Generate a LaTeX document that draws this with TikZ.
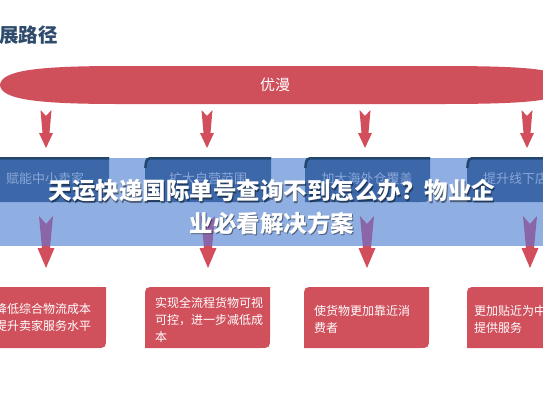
\documentclass[tikz,border=0pt]{standalone}
\usepackage{fontspec}
\setmainfont{Noto Sans CJK SC}
\usetikzlibrary{calc}
\definecolor{bannerred}{HTML}{CF4F5B}
\definecolor{arrowred}{HTML}{D24E5C}
\definecolor{arrowpurple}{HTML}{8A66A9}
\definecolor{bandblue}{HTML}{8FAFE2}
\definecolor{boxblue}{HTML}{3C68A9}
\definecolor{boxdark}{HTML}{22476F}
\definecolor{boxtext}{HTML}{8AA6D8}
\definecolor{titledark}{HTML}{2F4B6C}
\definecolor{redbox}{HTML}{D0505C}
\newcommand\rbox[3]{%
  \fill[#2] let \p1=(#1.north west), \p2=(#1.south east) in
    (\x1,\y2) -- (\x1,\y1-#3) .. controls (\x1,\y1) .. (\x1+#3,\y1) -- (\x2,\y1)
    -- (\x2,\y2+#3) .. controls (\x2,\y2) .. (\x2-#3,\y2) -- cycle;}
\newcommand\topborder[2]{%
  \draw[boxdark, line width=2.5pt] let \p1=(#1.north west), \p2=(#1.south east) in
    (\x1+0.4pt,\y1-#2) .. controls (\x1+1.2pt,\y1-1.2pt) .. (\x1+#2,\y1-1.25pt) -- (\x2,\y1-1.25pt);}
\newcommand\fatarrow[8]{%
  \fill[#1] let \p1=(#2), \p2=(#3) in
    (\x1-#4,\y1) -- (\x1,\y1-#5) -- (\x1+#4,\y1) -- (\x1+#6,\y2+#8) -- (\x1+#7,\y2+#8)
    -- (\x2,\y2) -- (\x1-#7,\y2+#8) -- (\x1-#6,\y2+#8) -- cycle;}
\tikzset{
  boxn/.style={inner sep=0pt, outer sep=0pt},
  bluetxt/.style={inner sep=0pt, text=boxtext, font=\fontsize{13}{15}\selectfont},
  redtxt/.style={inner sep=0pt, anchor=west, text=white, font=\fontsize{12}{14}\selectfont},
  bigtitle/.style={inner sep=0pt, text=white, font=\fontsize{23.5}{26}\selectfont\bfseries},
  bigshadow/.style={inner sep=0pt, text=black, opacity=0.45, font=\fontsize{23.5}{26}\selectfont\bfseries},
}
\begin{document}
\begin{tikzpicture}[x=1pt,y=-1pt]
\useasboundingbox (0,0) rectangle (543,408);
\clip (0,0) rectangle (543,408);
\fill[white] (0,0) rectangle (543,408);

% heading
\node[inner sep=0pt, anchor=west, text=titledark, font=\fontsize{19.5}{22}\selectfont\bfseries] (head) at (-1,35) {展路径};

% banner
\fill[bannerred] (0,85) .. controls (1,70) and (40,66) .. (120,66) -- (440,66)
  .. controls (540,66) and (565,70) .. (566,85)
  .. controls (565,100) and (540,104) .. (440,104) -- (120,104)
  .. controls (40,104) and (1,100) .. (0,85) -- cycle;
\node[inner sep=0pt, text=white, font=\fontsize{15}{17}\selectfont] (banner) at (275,85) {优漫};

% upper arrows
\foreach \i/\x in {1/46,2/207,3/365,4/527}{
  \coordinate (u\i s) at (\x,110);
  \coordinate (u\i e) at (\x,148);
  \fatarrow{arrowred}{u\i s}{u\i e}{5.5pt}{6pt}{3.5pt}{7pt}{15pt}
}

% band
\node[boxn, fill=bandblue, minimum width=543pt, minimum height=88pt] (band) at (271.5,202) {};

% lower arrows
\foreach \i/\x in {1/46,2/208,3/367,4/530}{
  \coordinate (l\i s) at (\x,216);
  \coordinate (l\i e) at (\x,268);
  \begin{scope}
    \clip (band.north west) rectangle (band.south east);
    \fatarrow{arrowpurple}{l\i s}{l\i e}{7pt}{8pt}{4pt}{8.5pt}{20pt}
  \end{scope}
  \begin{scope}
    \clip (0,246) rectangle (543,408);
    \fatarrow{arrowred}{l\i s}{l\i e}{7pt}{8pt}{4pt}{8.5pt}{20pt}
  \end{scope}
}

% blue boxes
\node[boxn, minimum width=129pt, minimum height=45pt] (b1) at (44.5,179.5) {};
\node[boxn, minimum width=126pt, minimum height=45pt] (b2) at (208,179.5) {};
\node[boxn, minimum width=125pt, minimum height=45pt] (b3) at (367.5,179.5) {};
\node[boxn, minimum width=133pt, minimum height=45pt] (b4) at (533.5,179.5) {};
\foreach \b in {b1,b2,b3,b4}{
  \rbox{\b}{boxblue}{11pt}
  \topborder{\b}{11pt}
}
\node[bluetxt] (bt1) at (45,179) {赋能中小卖家};
\node[bluetxt] (bt2) at (208,179) {扩大自营范围};
\node[bluetxt] (bt3) at (367,179) {加大海外仓覆盖};
\node[bluetxt, anchor=west] (bt4) at (483,179) {提升线下店};

% red boxes
\node[boxn, minimum width=126pt, minimum height=61pt] (r1) at (43,317.5) {};
\node[boxn, minimum width=125pt, minimum height=61pt] (r2) at (207.5,317.5) {};
\node[boxn, minimum width=125pt, minimum height=61pt] (r3) at (366.5,317.5) {};
\node[boxn, minimum width=133pt, minimum height=61pt] (r4) at (533.5,317.5) {};
\foreach \b in {r1,r2,r3,r4}{
  \rbox{\b}{redbox}{11pt}
}
\node[redtxt] (rt1a) at (-5,309) {降低综合物流成本};
\node[redtxt] (rt1b) at (-5,325.5) {提升卖家服务水平};
\node[redtxt] (rt2a) at (155,303) {实现全流程货物可视};
\node[redtxt] (rt2b) at (155,320) {可控，进一步减低成};
\node[redtxt] (rt2c) at (155,337) {本};
\node[redtxt] (rt3a) at (314,311) {使货物更加靠近消};
\node[redtxt] (rt3b) at (314,327.5) {费者};
\node[redtxt] (rt4a) at (474,311) {更加贴近为中};
\node[redtxt] (rt4b) at (474,327.5) {提供服务};

% overlay title
\node[bigshadow] (s1) at (273,192.5) {天运快递国际单号查询不到怎么办？物业企};
\node[bigshadow] (s2) at (273,224.5) {业必看解决方案};
\node[bigtitle] (t1) at (272,191) {天运快递国际单号查询不到怎么办？物业企};
\node[bigtitle] (t2) at (272,223) {业必看解决方案};
\end{tikzpicture}
\end{document}
